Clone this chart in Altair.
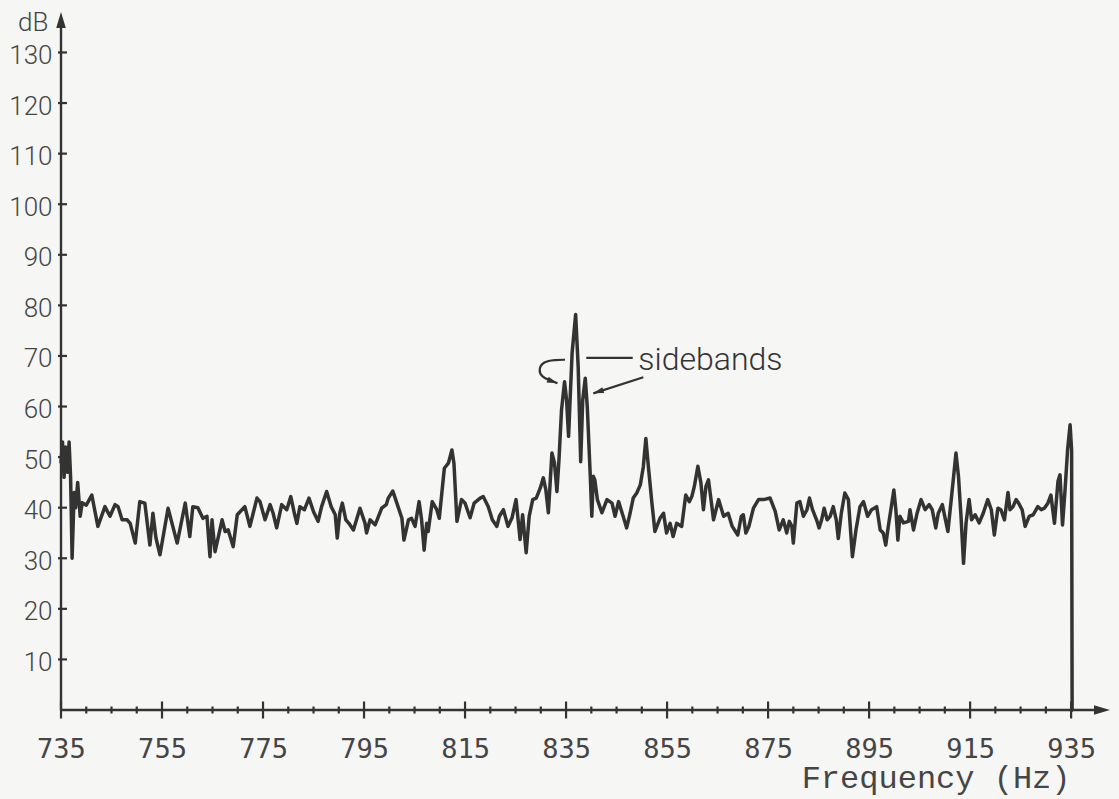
import altair as alt
import pandas as pd

# Spectrum trace: frequency (Hz) and level (dB)
freq = [
    735.0, 735.3, 735.6, 735.9, 736.3, 736.6, 736.9, 737.2, 737.6, 737.9,
    738.3, 738.8, 739.2, 740.0, 741.1, 742.3, 743.7, 744.7, 745.7, 746.3,
    747.1, 748.1, 748.7, 749.7, 750.6, 751.6, 752.6, 753.2, 753.8, 754.6,
    756.2, 758.0, 759.6, 760.5, 761.1, 762.1, 763.1, 763.9, 764.5, 764.9,
    765.5, 766.9, 767.5, 768.1, 769.1, 769.9, 771.4, 772.4, 773.8,
    774.4, 775.4, 776.4, 777.0, 777.7, 778.7, 779.7, 780.5, 781.2, 781.7,
    782.3, 783.2, 784.1, 785.0, 785.9, 786.6, 787.6, 788.5, 789.3, 789.7,
    790.2, 790.7, 791.4, 792.0, 792.9, 794.2, 795.2, 795.5, 796.2, 797.2,
    798.5, 799.4, 799.8, 800.7, 801.5, 802.5, 802.9, 803.8, 804.4, 805.1,
    805.9, 806.4, 806.9, 807.4, 807.7, 808.5, 809.4, 809.9, 810.9, 811.7,
    812.4, 812.8, 813.4, 814.3, 815.0,
    816.0, 816.8, 818.0, 818.6, 819.6, 820.4, 821.3, 821.8, 822.6, 823.5,
    824.3, 825.1, 825.9, 826.4, 827.1, 827.7, 828.4, 829.1, 829.9, 830.5,
    831.0, 831.5, 832.2, 832.7, 833.2, 833.6, 834.1, 834.7, 835.1, 835.5,
    835.8, 836.2, 836.9, 837.4, 837.9, 838.3, 838.8, 839.2, 839.8, 840.1,
    840.4, 840.7, 841.2, 842.1, 843.1, 844.1, 844.7, 845.4, 846.3, 847.0,
    847.7, 848.3, 849.0, 849.7, 850.3, 850.8, 851.3, 852.0, 852.6,
    853.6, 854.3, 854.9, 855.6, 856.2, 856.9, 857.9, 858.7, 859.4, 859.9,
    860.4, 861.1, 861.7, 862.2, 862.7, 863.2, 863.7, 864.2, 865.2, 866.2,
    867.1, 867.9, 869.0, 869.7, 870.1, 870.6, 871.2, 872.1, 873.1, 874.1,
    875.4, 876.4, 877.2, 878.0, 878.7, 879.2, 879.7, 880.0, 880.7, 881.3,
    882.0, 882.7, 883.2, 883.8, 884.6, 885.1, 885.6, 886.1, 886.7, 887.3,
    887.9, 888.5, 888.9, 889.5, 890.2, 890.9, 891.7, 892.4, 893.2,
    893.9, 894.7, 895.5, 896.5, 897.2, 897.8, 898.3, 898.8, 899.4, 899.9,
    900.3, 900.7, 901.1, 901.8, 902.8, 903.1, 903.8, 904.5, 905.3, 906.1,
    906.9, 907.5, 908.2, 908.7, 909.5, 910.6, 911.4, 911.8, 912.2, 912.7,
    913.2, 913.7, 914.2, 914.8, 915.3, 916.0, 916.8, 917.6, 918.5, 919.2,
    919.8, 920.5, 921.1, 921.8, 922.5, 922.9, 923.5, 924.1, 924.6, 925.3,
    925.9, 926.7, 927.5, 928.4, 929.1, 929.7, 930.4, 931.0, 931.7, 932.4,
    932.8, 933.3, 933.8, 934.3, 934.8, 935.1, 935.2,
]
level = [
    49.0, 53.0, 46.0, 52.0, 47.0, 53.0, 46.0, 30.0, 43.0, 40.0,
    45.0, 38.3, 41.0, 40.5, 42.5, 36.3, 40.2, 38.3, 40.6, 40.2,
    37.6, 37.6, 36.9, 33.0, 41.2, 40.9, 32.6, 38.9, 34.0, 30.7,
    39.9, 33.0, 40.9, 34.3, 40.2, 40.0, 37.9, 38.3, 30.3, 37.6,
    31.3, 37.6, 35.3, 35.6, 32.3, 38.6, 40.2, 36.3, 41.9,
    41.2, 37.6, 40.6, 38.9, 36.0, 40.6, 39.6, 42.2, 38.9, 36.9,
    40.2, 39.6, 41.9, 39.2, 37.3, 40.2, 43.2, 40.2, 38.6, 34.0,
    38.9, 40.9, 37.6, 36.9, 35.6, 39.9, 36.9, 35.0, 37.6, 36.6,
    39.9, 40.6, 41.9, 43.3, 40.9, 37.9, 33.6, 37.6, 37.9, 36.3,
    41.2, 37.6, 31.6, 36.9, 35.3, 41.2, 39.6, 37.9, 47.8, 48.8,
    51.4, 48.8, 37.3, 41.6, 40.9,
    38.0, 40.9, 41.9, 42.2, 40.2, 37.6, 36.3, 38.3, 39.6, 36.3,
    38.0, 41.6, 33.7, 38.6, 31.1, 38.3, 41.6, 41.9, 43.9, 45.9,
    43.5, 39.0, 50.8, 48.9, 43.2, 49.5, 59.3, 64.9, 61.3, 54.1,
    61.3, 70.6, 78.2, 67.9, 49.1, 61.3, 65.6, 60.0, 46.2, 38.3,
    46.2, 45.5, 41.6, 39.0, 41.6, 40.9, 38.3, 41.2, 38.3, 36.0,
    39.0, 41.9, 42.9, 44.5, 48.1, 53.7, 48.1, 40.9, 35.3,
    37.9, 38.9, 35.0, 36.9, 34.3, 36.9, 36.3, 42.5, 41.2, 42.2,
    44.2, 48.2, 44.9, 39.6, 44.2, 45.5, 41.6, 37.6, 41.6, 38.3,
    38.9, 36.3, 34.6, 38.3, 38.6, 35.0, 36.3, 39.9, 41.6, 41.6,
    41.9, 39.3, 35.6, 37.6, 35.0, 37.3, 36.3, 33.0, 40.9, 41.2,
    38.3, 39.6, 41.9, 39.6, 37.6, 36.0, 37.6, 39.9, 37.6, 38.3,
    40.2, 37.6, 33.9, 38.9, 42.9, 41.6, 30.3, 35.6, 40.2,
    41.2, 38.3, 39.6, 40.2, 35.6, 35.0, 32.6, 36.3, 40.2, 43.5,
    39.6, 33.6, 38.3, 37.0, 37.3, 39.6, 35.6, 38.9, 41.6, 39.6,
    40.6, 39.6, 36.0, 38.9, 40.6, 35.3, 42.9, 46.8, 50.8, 46.2,
    38.3, 29.0, 37.0, 41.6, 37.6, 38.6, 37.0, 38.9, 41.6, 39.6,
    34.6, 39.9, 39.6, 37.6, 43.0, 39.6, 40.2, 41.6, 40.9, 39.6,
    36.3, 38.3, 38.6, 40.2, 39.6, 39.9, 40.9, 42.5, 36.9, 45.2,
    46.5, 36.6, 43.5, 51.4, 56.4, 51.4, 0.0,
]

# Axis ticks and labels
y_ticks = list(range(10, 140, 10))
x_major = list(range(735, 936, 20))
x_minor = [f for f in range(735, 936, 5) if (f - 735) % 20]

# Annotation: "sidebands" label with its leader lines (Hz, dB)
label_text = "sidebands"
label_pos = (849.3, 67.3)
leader_f = [839.0, 848.2]
leader_db = [69.6, 69.6]
hook_f = [834.8, 832.8, 830.5, 829.5, 830.2, 831.8, 833.3]
hook_db = [69.25, 69.25, 68.9, 67.3, 65.8, 65.2, 64.6]
pointer_f = [850.3, 840.4]
pointer_db = [65.8, 62.6]

X_DOMAIN = [735, 942.7]
Y_DOMAIN = [0, 138]

INK = "#333333"
TEXT = "#454545"
PAPER = "#f6f6f4"
ARROW = "M0,0 L-2,-0.6 L-2,0.6 Z"

xscale = alt.Scale(domain=X_DOMAIN, nice=False, zero=False)
yscale = alt.Scale(domain=Y_DOMAIN, nice=False, zero=False)

# Every layer carries the same axis definitions so the merged axes keep them
XAXIS = alt.Axis(
    values=x_major, format="d", domain=False, ticks=False, tickSize=0,
    grid=False, labelFont="DejaVu Sans Mono", labelFontSize=27,
    labelColor=TEXT, labelPadding=47, labelBaseline="alphabetic",
    labelFlush=False, labelOverlap=False,
    title="Frequency (Hz)", titleFont="Liberation Mono",
    titleFontSize=32, titleFontWeight="normal", titleColor=TEXT,
    titleX=1009, titleY=77, titleAlign="right", titleBaseline="alphabetic",
)
YAXIS = alt.Axis(
    values=y_ticks, format="d", domain=False, ticks=False, tickSize=0,
    grid=False, labelFont="Roboto", labelFontSize=26,
    labelFontWeight=300, labelColor=TEXT, labelPadding=9,
    labelOffset=3, labelBaseline="middle", labelFlush=False,
    labelOverlap=False,
    title="dB", titleFont="Roboto", titleFontSize=26,
    titleFontWeight=300, titleColor=TEXT, titleAngle=0,
    titleX=-13, titleY=10, titleAlign="right", titleBaseline="middle",
)


def xd(v):
    return alt.XDatum(v, type="quantitative", scale=xscale, axis=XAXIS)


def yd(v):
    return alt.YDatum(v, type="quantitative", scale=yscale, axis=YAXIS)


def xf(name):
    return alt.X(name, type="quantitative", scale=xscale, axis=XAXIS)


def yf(name):
    return alt.Y(name, type="quantitative", scale=yscale, axis=YAXIS)


spectrum = pd.DataFrame({"freq": freq, "level": level})

trace = alt.Chart(spectrum).mark_line(
    color=INK, strokeWidth=3.5, strokeJoin="round", strokeCap="round"
).encode(x=xf("freq"), y=yf("level"))

# Axis lines with arrowheads
y_line = alt.Chart().mark_rule(color=INK, strokeWidth=2.4).encode(
    x=xd(X_DOMAIN[0]), y=yd(Y_DOMAIN[0]), y2=alt.Y2Datum(Y_DOMAIN[1] - 2)
)
x_line = alt.Chart().mark_rule(color=INK, strokeWidth=2.4).encode(
    y=yd(Y_DOMAIN[0]), x=xd(X_DOMAIN[0]), x2=alt.X2Datum(X_DOMAIN[1] - 2)
)
y_head = alt.Chart().mark_point(
    shape=ARROW, size=256, filled=True, color=INK, opacity=1, angle=270
).encode(x=xd(X_DOMAIN[0]), y=yd(Y_DOMAIN[1]))
x_head = alt.Chart().mark_point(
    shape=ARROW, size=256, filled=True, color=INK, opacity=1, angle=0
).encode(x=xd(X_DOMAIN[1]), y=yd(Y_DOMAIN[0]))

# Ticks crossing the axes
major_ticks = alt.Chart(pd.DataFrame({"f": x_major})).mark_tick(
    orient="vertical", size=17, thickness=2.2, color=INK, opacity=1
).encode(x=xf("f"), y=yd(0))
minor_ticks = alt.Chart(pd.DataFrame({"f": x_minor})).mark_tick(
    orient="vertical", size=7, thickness=2.2, color=INK, opacity=1
).encode(x=xf("f"), y=yd(0))
y_tick_marks = alt.Chart(pd.DataFrame({"v": y_ticks})).mark_tick(
    orient="horizontal", size=9, thickness=2.2, color=INK, opacity=1,
    xOffset=1.5,
).encode(x=xd(X_DOMAIN[0]), y=yf("v"))

# Annotation
label = alt.Chart().mark_text(
    text=label_text, align="left", baseline="alphabetic", font="Roboto",
    fontSize=32, fontWeight=300, color=INK,
).encode(x=xd(label_pos[0]), y=yd(label_pos[1]))


def polyline(fs, dbs):
    df = pd.DataFrame({"f": fs, "db": dbs, "seq": range(len(fs))})
    return alt.Chart(df).mark_line(
        color=INK, strokeWidth=2.2, interpolate="basis"
    ).encode(x=xf("f"), y=yf("db"), order="seq:Q")


leader = polyline(leader_f, leader_db)
hook = polyline(hook_f, hook_db)
pointer = polyline(pointer_f, pointer_db)

hook_head = alt.Chart().mark_point(
    shape=ARROW, size=110, filled=True, color=INK, opacity=1, angle=20
).encode(x=xd(hook_f[-1]), y=yd(hook_db[-1]))
pointer_head = alt.Chart().mark_point(
    shape=ARROW, size=110, filled=True, color=INK, opacity=1, angle=162
).encode(x=xd(pointer_f[-1]), y=yd(pointer_db[-1]))

chart = alt.layer(
    trace, y_line, x_line, y_head, x_head, major_ticks, minor_ticks,
    y_tick_marks, leader, hook, pointer, hook_head, pointer_head, label,
).properties(
    width=1049,
    height=698,
    padding={"left": 61, "top": 12, "right": 9, "bottom": 89},
    autosize=alt.AutoSizeParams(type="none"),
    background=PAPER,
).configure_view(stroke=None)

chart.save("out.html", embed_options={"renderer": "svg", "actions": False})
